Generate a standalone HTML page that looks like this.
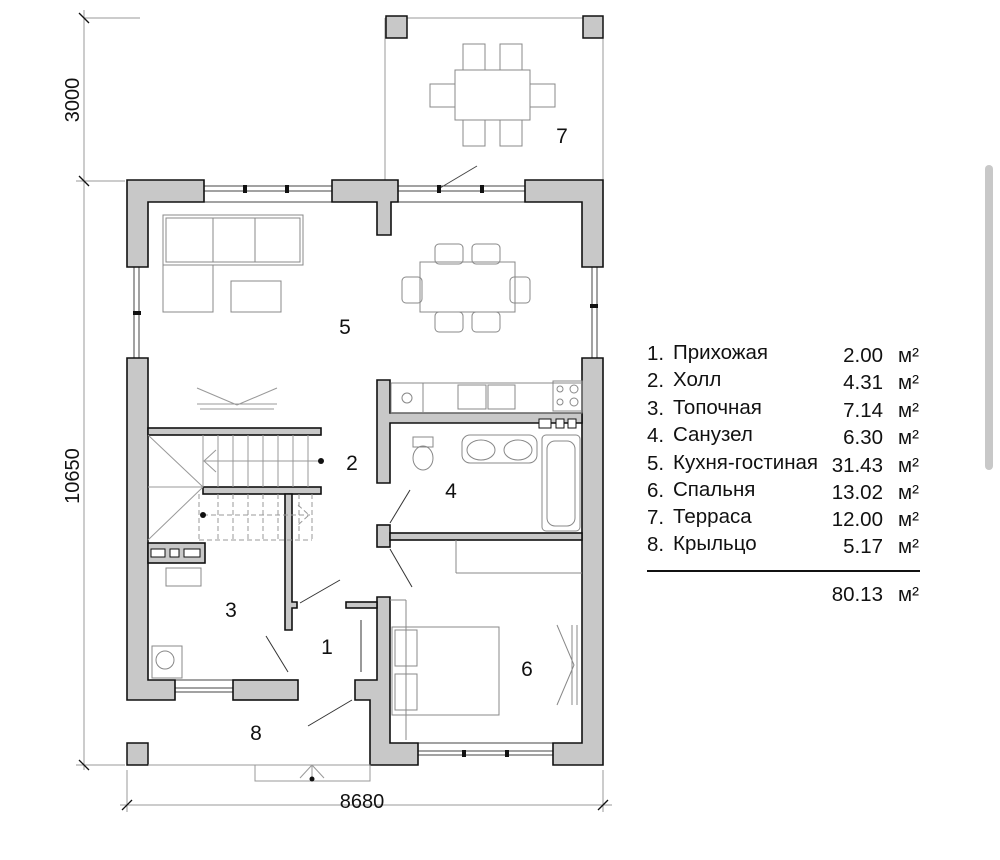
<!DOCTYPE html>
<html><head><meta charset="utf-8"><style>
html,body{margin:0;padding:0;background:#fff;width:1000px;height:860px;overflow:hidden}
svg{display:block}
text{font-family:"Liberation Sans","DejaVu Sans",sans-serif;fill:#111}
</style></head><body>
<svg width="1000" height="860" viewBox="0 0 1000 860" xmlns="http://www.w3.org/2000/svg">
<g stroke="#999" stroke-width="1" fill="none">
<line x1="84" y1="10" x2="84" y2="770"/>
<line x1="84" y1="18" x2="140" y2="18"/>
<line x1="76" y1="181" x2="125" y2="181"/>
<line x1="76" y1="765" x2="125" y2="765"/>
<line x1="120" y1="805" x2="612" y2="805"/>
<line x1="127" y1="770" x2="127" y2="812"/>
<line x1="603" y1="770" x2="603" y2="812"/>
<line x1="385" y1="18" x2="603" y2="18"/>
<line x1="385" y1="18" x2="385" y2="180"/>
<line x1="603" y1="18" x2="603" y2="180"/>
</g>
<g stroke="#111" stroke-width="1.3">
<line x1="79" y1="13" x2="89" y2="23"/><line x1="79" y1="176" x2="89" y2="186"/><line x1="79" y1="760" x2="89" y2="770"/>
<line x1="122" y1="810" x2="132" y2="800"/><line x1="598" y1="810" x2="608" y2="800"/>
</g>
<text x="0" y="0" font-size="20" transform="translate(79,100) rotate(-90)" text-anchor="middle">3000</text>
<text x="0" y="0" font-size="20" transform="translate(79,476) rotate(-90)" text-anchor="middle">10650</text>
<text x="362" y="808" font-size="20" text-anchor="middle">8680</text>

<g fill="#c8c8c8" stroke="#111" stroke-width="1.5">
<rect x="386" y="16" width="21" height="22"/><rect x="583" y="16" width="20" height="22"/>
<rect x="127" y="743" width="21" height="22"/>
</g>
<g fill="none" stroke="#888" stroke-width="1">
<rect x="455" y="70" width="75" height="50"/>
<rect x="463" y="44" width="22" height="26"/><rect x="500" y="44" width="22" height="26"/>
<rect x="463" y="120" width="22" height="26"/><rect x="500" y="120" width="22" height="26"/>
<rect x="430" y="84" width="25" height="23"/><rect x="530" y="84" width="25" height="23"/>
</g>

<g stroke="#444" stroke-width="1" fill="none">
<line x1="204" y1="186" x2="332" y2="186"/><line x1="204" y1="191" x2="332" y2="191"/>
<line x1="398" y1="186" x2="525" y2="186"/><line x1="398" y1="191" x2="525" y2="191"/>
<line x1="134" y1="267" x2="134" y2="358"/><line x1="139" y1="267" x2="139" y2="358"/>
<line x1="592" y1="267" x2="592" y2="358"/><line x1="597" y1="267" x2="597" y2="358"/>
<line x1="175" y1="688" x2="233" y2="688"/><line x1="175" y1="692" x2="233" y2="692"/>
<line x1="418" y1="751" x2="553" y2="751"/><line x1="418" y1="755" x2="553" y2="755"/>
<line x1="204" y1="202" x2="332" y2="202"/><line x1="398" y1="202" x2="525" y2="202"/>
<line x1="418" y1="743" x2="553" y2="743"/><line x1="175" y1="680" x2="233" y2="680"/>
<line x1="440" y1="188" x2="477" y2="166"/>
</g>
<g fill="#111">
<rect x="243" y="185" width="4" height="8"/><rect x="285" y="185" width="4" height="8"/>
<rect x="437" y="185" width="4" height="8"/><rect x="480" y="185" width="4" height="8"/>
<rect x="133" y="311" width="8" height="4"/><rect x="590" y="304" width="8" height="4"/>
<rect x="462" y="750" width="4" height="7"/><rect x="505" y="750" width="4" height="7"/>
</g>

<g fill="#c8c8c8" stroke="#111" stroke-width="1.6" stroke-linejoin="miter">
<path d="M127 180 H204 V202 H148 V267 H127 Z"/>
<path d="M332 180 H398 V202 H391 V235 H377 V202 H332 Z"/>
<path d="M525 180 H603 V267 H582 V202 H525 Z"/>
<path d="M127 358 H148 V680 H175 V700 H127 Z"/>
<path d="M582 358 H603 V765 H553 V743 H582 Z"/>
<rect x="233" y="680" width="65" height="20"/>
<path d="M377 380 H390 V413 H582 V423 H390 V483 H377 Z"/>
<rect x="377" y="525" width="13" height="22"/>
<rect x="390" y="533" width="192" height="7"/>
<path d="M377 597 H390 V743 H418 V765 H370 V700 H355 V680 H377 Z"/>
<rect x="148" y="428" width="173" height="7"/>
<rect x="203" y="487" width="118" height="7"/>
<path d="M285 494 H292 V602 H297 V608 H292 V630 H285 Z"/>
<rect x="148" y="543" width="57" height="20"/>
<rect x="346" y="602" width="31" height="6"/>
</g>
<g fill="#fff" stroke="#111" stroke-width="1">
<rect x="151" y="549" width="14" height="8"/><rect x="170" y="549" width="9" height="8"/><rect x="184" y="549" width="16" height="8"/>
<rect x="539" y="419" width="12" height="9"/><rect x="556" y="419" width="8" height="9"/><rect x="568" y="419" width="8" height="9"/>
</g>

<g stroke="#999" fill="none" stroke-width="1">
<line x1="148" y1="765" x2="370" y2="765"/>
<rect x="255" y="765" width="115" height="16"/>
<line x1="300" y1="778" x2="312" y2="765"/><line x1="324" y1="778" x2="312" y2="765"/>
<line x1="312" y1="765" x2="312" y2="778"/>
</g>
<circle cx="312" cy="779" r="2.5" fill="#111"/>

<g stroke="#333" stroke-width="1" fill="none">
<line x1="308" y1="726" x2="352" y2="700"/>
<line x1="288" y1="672" x2="266" y2="636"/>
<line x1="300" y1="603" x2="340" y2="580"/>
<line x1="390" y1="523" x2="410" y2="490"/>
<line x1="390" y1="549" x2="412" y2="587"/>
<line x1="361" y1="620" x2="361" y2="672"/>
</g>

<g stroke="#999" stroke-width="1" fill="none">
<line x1="203" y1="435" x2="203" y2="487"/>
<line x1="148" y1="487" x2="203" y2="487"/>
<line x1="148" y1="435" x2="203" y2="487"/><line x1="203" y1="487" x2="148" y2="540"/>
<path d="M218 435V487M233 435V487M248 435V487M263 435V487M278 435V487M293 435V487M308 435V487"/>
<line x1="203" y1="461" x2="320" y2="461"/>
<polyline points="216,450 204,461 216,472"/>
<g stroke-dasharray="5,3"><path d="M199 494V540M218 494V540M233 494V540M248 494V540M263 494V540M278 494V540M299 494V540M312 494V540"/>
<line x1="199" y1="540" x2="312" y2="540"/><line x1="203" y1="515" x2="310" y2="515"/>
<polyline points="298,505 309,515 298,525"/></g>
<line x1="197" y1="404" x2="277" y2="404"/><line x1="200" y1="409" x2="274" y2="409"/>
<line x1="197" y1="388" x2="237" y2="405"/><line x1="277" y1="388" x2="237" y2="405"/>
</g>
<circle cx="321" cy="461" r="3" fill="#111"/><circle cx="203" cy="515" r="3" fill="#111"/>

<g fill="none" stroke="#888" stroke-width="1">
<rect x="163" y="215" width="140" height="50"/><rect x="166" y="218" width="134" height="44"/>
<rect x="163" y="265" width="50" height="47"/><line x1="213" y1="218" x2="213" y2="262"/><line x1="255" y1="218" x2="255" y2="262"/>
<rect x="231" y="281" width="50" height="31"/>
<rect x="420" y="262" width="95" height="50"/>
<rect x="435" y="244" width="28" height="20" rx="4"/><rect x="472" y="244" width="28" height="20" rx="4"/>
<rect x="435" y="312" width="28" height="20" rx="4"/><rect x="472" y="312" width="28" height="20" rx="4"/>
<rect x="402" y="277" width="20" height="26" rx="4"/><rect x="510" y="277" width="20" height="26" rx="4"/>
<rect x="391" y="383" width="191" height="30"/><rect x="391" y="383" width="32" height="30"/>
<rect x="458" y="385" width="28" height="24"/><rect x="488" y="385" width="27" height="24"/>
<rect x="553" y="381" width="29" height="30"/>
<circle cx="560" cy="389" r="3"/><circle cx="574" cy="389" r="4"/><circle cx="560" cy="402" r="3"/><circle cx="574" cy="402" r="4"/>
<circle cx="407" cy="398" r="5"/>
<rect x="462" y="435" width="75" height="28" rx="8"/>
<ellipse cx="481" cy="450" rx="14" ry="10"/><ellipse cx="518" cy="450" rx="14" ry="10"/>
<rect x="542" y="435" width="38" height="96" rx="4"/><rect x="547" y="441" width="28" height="85" rx="8"/>
<rect x="413" y="437" width="20" height="10"/><ellipse cx="423" cy="458" rx="10" ry="12"/>
<line x1="456" y1="540" x2="456" y2="573"/><line x1="456" y1="573" x2="582" y2="573"/>
<rect x="392" y="627" width="107" height="88"/><rect x="395" y="630" width="22" height="36"/><rect x="395" y="674" width="22" height="36"/>
<rect x="152" y="646" width="30" height="32"/><circle cx="165" cy="660" r="9"/>
<rect x="166" y="568" width="35" height="18"/>
<line x1="572" y1="625" x2="572" y2="705"/><line x1="577" y1="625" x2="577" y2="705"/>
<polyline points="557,625 574,665 557,705"/>
<line x1="390" y1="600" x2="406" y2="600"/><line x1="406" y1="600" x2="406" y2="740"/>
</g>

<g font-size="21" text-anchor="middle">
<text x="345" y="334">5</text><text x="562" y="143">7</text><text x="352" y="470">2</text>
<text x="451" y="498">4</text><text x="231" y="617">3</text><text x="327" y="654">1</text>
<text x="527" y="676">6</text><text x="256" y="740">8</text>
</g>

<g font-size="20.5">
<text x="647" y="360">1.</text><text x="673" y="359">Прихожая</text><text x="883" y="362" text-anchor="end">2.00</text><text x="898" y="362">м²</text>
<text x="647" y="387">2.</text><text x="673" y="386">Холл</text><text x="883" y="389" text-anchor="end">4.31</text><text x="898" y="389">м²</text>
<text x="647" y="415">3.</text><text x="673" y="414">Топочная</text><text x="883" y="417" text-anchor="end">7.14</text><text x="898" y="417">м²</text>
<text x="647" y="442">4.</text><text x="673" y="441">Санузел</text><text x="883" y="444" text-anchor="end">6.30</text><text x="898" y="444">м²</text>
<text x="647" y="470">5.</text><text x="673" y="469">Кухня-гостиная</text><text x="883" y="472" text-anchor="end">31.43</text><text x="898" y="472">м²</text>
<text x="647" y="497">6.</text><text x="673" y="496">Спальня</text><text x="883" y="499" text-anchor="end">13.02</text><text x="898" y="499">м²</text>
<text x="647" y="524">7.</text><text x="673" y="523">Терраса</text><text x="883" y="526" text-anchor="end">12.00</text><text x="898" y="526">м²</text>
<text x="647" y="551">8.</text><text x="673" y="550">Крыльцо</text><text x="883" y="553" text-anchor="end">5.17</text><text x="898" y="553">м²</text>
<text x="883" y="601" text-anchor="end">80.13</text><text x="898" y="601">м²</text>
</g>
<line x1="647" y1="571" x2="920" y2="571" stroke="#111" stroke-width="2"/>
<rect x="985" y="165" width="8" height="305" rx="4" fill="#c8c8c8"/>
</svg>
</body></html>
